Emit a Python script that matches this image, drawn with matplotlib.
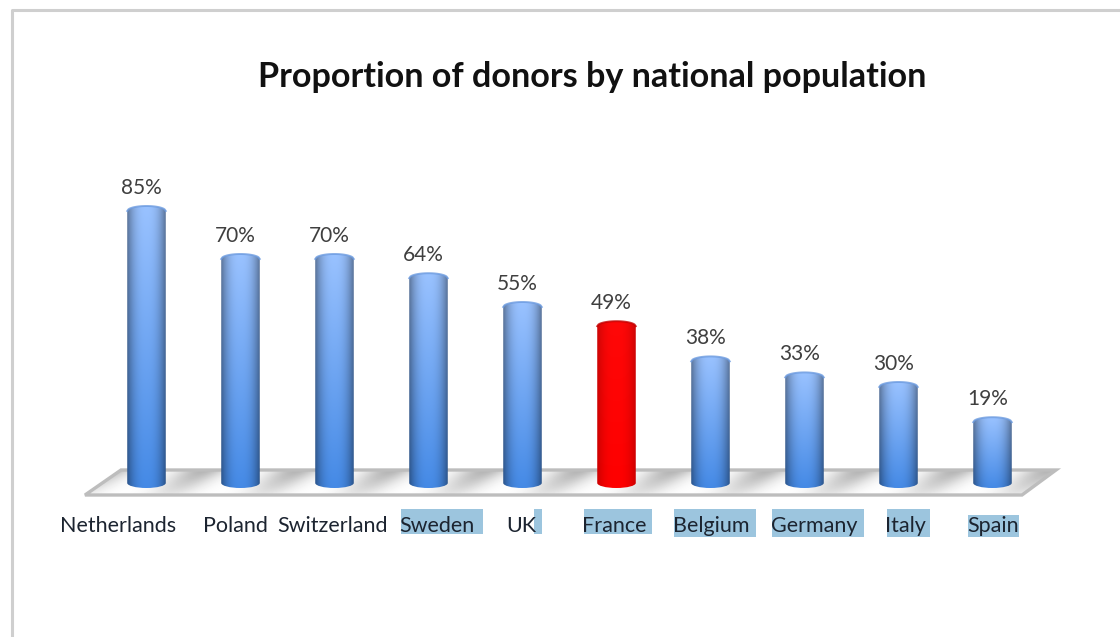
import numpy as np
import matplotlib
matplotlib.use("Agg")
import matplotlib.pyplot as plt
from matplotlib.patches import PathPatch, Polygon, Rectangle
from matplotlib.path import Path

countries = ["Netherlands", "Poland", "Switzerland", "Sweden", "UK",
             "France", "Belgium", "Germany", "Italy", "Spain"]
donors = [85, 70, 70, 64, 55, 49, 38, 33, 30, 19]
highlighted = ["France"]

W, H = 1120, 637
X0, DX = 146.5, 94.0    # pixel centre of first bar, bar spacing
Y0, DY = 483.0, 3.2     # pixel of value 0, pixels per percent

plt.rcParams["font.family"] = ["Lato", "DejaVu Sans"]

fig = plt.figure(figsize=(W / 100, H / 100), dpi=100, facecolor="white")

# Overlay in pixel coordinates for frame, floor and label backgrounds
deco = fig.add_axes([0, 0, 1, 1], zorder=0)
deco.set_xlim(0, W)
deco.set_ylim(H, 0)
deco.axis("off")

# Data axes, scaled so that bars land where they do in the reference
ax = fig.add_axes([0, 0, 1, 1], zorder=1)
ax.patch.set_alpha(0)
ax.set_xlim(-X0 / DX, (W - X0) / DX)
ax.set_ylim(-(H - Y0) / DY, Y0 / DY)
ax.axis("off")

# Frame
deco.plot([12, 12, W], [H, 10, 10], color="#cfcfcf", lw=2.2)

# Floor with soft diagonal shadows
floor_pts = [(85, 495), (121, 470), (1056, 470), (1022, 495)]
fx, fy = np.meshgrid(np.arange(80, 1060), np.arange(468, 498))
shear = (495 - fy) * 36 / 25.0
phase = ((fx - shear - (X0 - 8)) % DX) / DX
shade = np.exp(-((phase - 0.3) / 0.26) ** 2) + np.exp(-((phase - 1.3) / 0.26) ** 2)
shade = np.clip(shade * (0.3 + 0.7 * (495 - fy) / 25.0), 0, 1)
floor_img = 1 - 0.3 * shade
floor_im = deco.imshow(floor_img, extent=(80, 1060, 498, 468), cmap="gray", vmin=0, vmax=1,
                       aspect="auto", interpolation="bilinear", zorder=1)
floor = Polygon(floor_pts, closed=True, facecolor="none", edgecolor="#bdbdbd", lw=2.4, zorder=2)
deco.add_patch(floor)
floor_im.set_clip_path(floor)
deco.set_xlim(0, W)
deco.set_ylim(H, 0)

# Blue backgrounds behind some of the category labels
label_boxes = [(401, 509, 82, 25), (534, 509, 8, 25), (584, 509, 68, 25),
               (674, 509, 82, 28), (772, 509, 92, 28), (887, 509, 43, 28),
               (968, 515, 51, 22)]
for bx, by, bw, bh in label_boxes:
    deco.add_patch(Rectangle((bx, by), bw, bh, facecolor="#9cc5de", edgecolor="none", zorder=2))

# Category labels
label_x = [118, 235, 333, 437, 521, 614, 711, 814, 905, 993]
for name, lx in zip(countries, label_x):
    deco.text(lx, 526, name, ha="center", va="center", fontsize=15.5,
              color="#1c2430", zorder=3)

deco.text(592, 77, "Proportion of donors by national population", ha="center",
          va="center", fontsize=24.6, fontweight="bold", color="#111111", zorder=3)


def cylinder_image(top_rgb, bottom_rgb, edge=0.6):
    """Shaded cylinder colours: lighter centre, dark edges, lighter top."""
    u = np.linspace(-1, 1, 60)
    v = np.linspace(0, 1, 120)
    side = edge + (1 - edge) * (1 - np.abs(u) ** 2.5)
    top = np.array(top_rgb)
    bottom = np.array(bottom_rgb)
    col = top[None, :] * (1 - v[:, None]) + bottom[None, :] * v[:, None]
    return col[:, None, :] * side[None, :, None]


half_w = 0.205          # half bar width in data units
cap = 5.0 / DY          # ellipse height in data units
k = 0.5523
blue = cylinder_image((0.60, 0.76, 1.0), (0.27, 0.54, 0.90))
red = cylinder_image((1.0, 0.03, 0.03), (1.0, 0.0, 0.0), edge=0.8)

for i, (name, val) in enumerate(zip(countries, donors)):
    left, right = i - half_w, i + half_w
    verts = [(left, 0), (left, val),
             (left, val + k * cap), (i - k * half_w, val + cap), (i, val + cap),
             (i + k * half_w, val + cap), (right, val + k * cap), (right, val),
             (right, 0),
             (right, -k * cap), (i + k * half_w, -cap), (i, -cap),
             (i - k * half_w, -cap), (left, -k * cap), (left, 0), (left, 0)]
    codes = [Path.MOVETO, Path.LINETO,
             Path.CURVE4, Path.CURVE4, Path.CURVE4,
             Path.CURVE4, Path.CURVE4, Path.CURVE4,
             Path.LINETO,
             Path.CURVE4, Path.CURVE4, Path.CURVE4,
             Path.CURVE4, Path.CURVE4, Path.CURVE4, Path.CLOSEPOLY]
    outline = PathPatch(Path(verts, codes), facecolor="none", edgecolor="none", zorder=2)
    ax.add_patch(outline)
    img = red if name in highlighted else blue
    im = ax.imshow(img, extent=(left, right, -cap, val + cap), aspect="auto",
                   interpolation="bilinear", zorder=2)
    im.set_clip_path(outline)
    # Soft rim on the top of the cylinder
    rim = "#c40000" if name in highlighted else "#6c9be0"
    ax.plot(np.linspace(left, right, 30),
            val + cap * np.sqrt(1 - np.linspace(-1, 1, 30) ** 2),
            color=rim, lw=1.4, alpha=0.8, zorder=3)
    ax.annotate(f"{val}%", (i, val), xytext=(-5, 23), textcoords="offset pixels",
                ha="center", va="center", fontsize=15, color="#3f3f3f", zorder=4)

ax.set_xlim(-X0 / DX, (W - X0) / DX)
ax.set_ylim(-(H - Y0) / DY, Y0 / DY)

fig.savefig("out.png", dpi=100)
